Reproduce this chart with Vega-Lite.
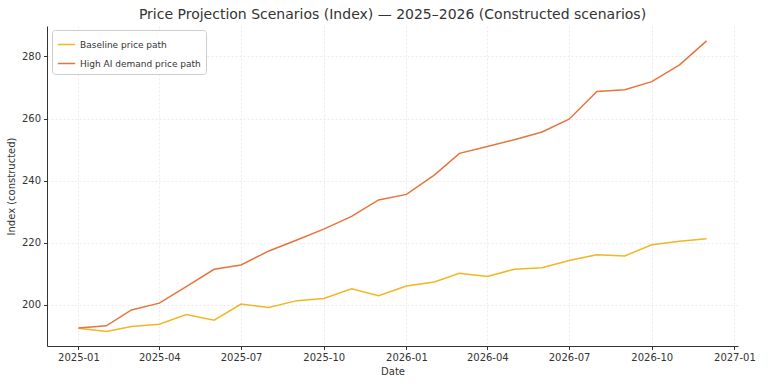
{
  "$schema": "https://vega.github.io/schema/vega-lite/v6.json",
  "autosize": "none",
  "width": 691,
  "height": 320,
  "padding": {"left": 47, "top": 26, "right": 30, "bottom": 38},
  "background": "white",
  "title": {"text": "Price Projection Scenarios (Index) — 2025–2026 (Constructed scenarios)", "fontSize": 14, "fontWeight": "normal", "color": "#333333", "font": "DejaVu Sans", "offset": 4, "anchor": "middle"},
  "config": {
    "view": {"stroke": null},
    "font": "DejaVu Sans",
    "axis": {"labelFont": "DejaVu Sans", "titleFont": "DejaVu Sans", "labelFontSize": 10, "titleFontSize": 10, "titleFontWeight": "normal", "labelColor": "#333333", "titleColor": "#333333", "domainColor": "#333333", "tickColor": "#333333", "tickSize": 3.5, "gridColor": "#e3e3e3", "gridDash": [2, 2], "gridWidth": 0.7}
  },
  "data": {"values": [
    {"date": "2025-01-01", "scenario": "Baseline price path", "value": 192.5},
    {"date": "2025-02-01", "scenario": "Baseline price path", "value": 191.5},
    {"date": "2025-03-01", "scenario": "Baseline price path", "value": 193.1},
    {"date": "2025-04-01", "scenario": "Baseline price path", "value": 193.8},
    {"date": "2025-05-01", "scenario": "Baseline price path", "value": 196.9},
    {"date": "2025-06-01", "scenario": "Baseline price path", "value": 195.1},
    {"date": "2025-07-01", "scenario": "Baseline price path", "value": 200.3},
    {"date": "2025-08-01", "scenario": "Baseline price path", "value": 199.2},
    {"date": "2025-09-01", "scenario": "Baseline price path", "value": 201.4},
    {"date": "2025-10-01", "scenario": "Baseline price path", "value": 202.1},
    {"date": "2025-11-01", "scenario": "Baseline price path", "value": 205.2},
    {"date": "2025-12-01", "scenario": "Baseline price path", "value": 203.0},
    {"date": "2026-01-01", "scenario": "Baseline price path", "value": 206.1},
    {"date": "2026-02-01", "scenario": "Baseline price path", "value": 207.4},
    {"date": "2026-03-01", "scenario": "Baseline price path", "value": 210.2},
    {"date": "2026-04-01", "scenario": "Baseline price path", "value": 209.2},
    {"date": "2026-05-01", "scenario": "Baseline price path", "value": 211.5},
    {"date": "2026-06-01", "scenario": "Baseline price path", "value": 212.0},
    {"date": "2026-07-01", "scenario": "Baseline price path", "value": 214.3},
    {"date": "2026-08-01", "scenario": "Baseline price path", "value": 216.2},
    {"date": "2026-09-01", "scenario": "Baseline price path", "value": 215.8},
    {"date": "2026-10-01", "scenario": "Baseline price path", "value": 219.4},
    {"date": "2026-11-01", "scenario": "Baseline price path", "value": 220.5},
    {"date": "2026-12-01", "scenario": "Baseline price path", "value": 221.3},
    {"date": "2025-01-01", "scenario": "High AI demand price path", "value": 192.6},
    {"date": "2025-02-01", "scenario": "High AI demand price path", "value": 193.3},
    {"date": "2025-03-01", "scenario": "High AI demand price path", "value": 198.4},
    {"date": "2025-04-01", "scenario": "High AI demand price path", "value": 200.6},
    {"date": "2025-05-01", "scenario": "High AI demand price path", "value": 205.9},
    {"date": "2025-06-01", "scenario": "High AI demand price path", "value": 211.5},
    {"date": "2025-07-01", "scenario": "High AI demand price path", "value": 212.9},
    {"date": "2025-08-01", "scenario": "High AI demand price path", "value": 217.4},
    {"date": "2025-09-01", "scenario": "High AI demand price path", "value": 220.9},
    {"date": "2025-10-01", "scenario": "High AI demand price path", "value": 224.4},
    {"date": "2025-11-01", "scenario": "High AI demand price path", "value": 228.5},
    {"date": "2025-12-01", "scenario": "High AI demand price path", "value": 233.8},
    {"date": "2026-01-01", "scenario": "High AI demand price path", "value": 235.6},
    {"date": "2026-02-01", "scenario": "High AI demand price path", "value": 241.8},
    {"date": "2026-03-01", "scenario": "High AI demand price path", "value": 248.8},
    {"date": "2026-04-01", "scenario": "High AI demand price path", "value": 251.0},
    {"date": "2026-05-01", "scenario": "High AI demand price path", "value": 253.2},
    {"date": "2026-06-01", "scenario": "High AI demand price path", "value": 255.7},
    {"date": "2026-07-01", "scenario": "High AI demand price path", "value": 259.8},
    {"date": "2026-08-01", "scenario": "High AI demand price path", "value": 268.7},
    {"date": "2026-09-01", "scenario": "High AI demand price path", "value": 269.3},
    {"date": "2026-10-01", "scenario": "High AI demand price path", "value": 271.9},
    {"date": "2026-11-01", "scenario": "High AI demand price path", "value": 277.3},
    {"date": "2026-12-01", "scenario": "High AI demand price path", "value": 285.0}
  ]},
  "mark": {"type": "line", "strokeWidth": 1.5, "clip": false},
  "encoding": {
    "x": {
      "field": "date", "type": "temporal", "title": "Date",
      "scale": {"type": "utc", "domain": [{"year": 2024, "month": 11, "date": 27, "utc": true}, {"year": 2027, "month": 1, "date": 5, "utc": true}], "nice": false},
      "axis": {
        "values": [
          {"year": 2025, "month": 1, "date": 1, "utc": true},
          {"year": 2025, "month": 4, "date": 1, "utc": true},
          {"year": 2025, "month": 7, "date": 1, "utc": true},
          {"year": 2025, "month": 10, "date": 1, "utc": true},
          {"year": 2026, "month": 1, "date": 1, "utc": true},
          {"year": 2026, "month": 4, "date": 1, "utc": true},
          {"year": 2026, "month": 7, "date": 1, "utc": true},
          {"year": 2026, "month": 10, "date": 1, "utc": true},
          {"year": 2027, "month": 1, "date": 1, "utc": true}
        ],
        "labelExpr": "utcFormat(datum.value, '%Y-%m')", "labelPadding": 3, "titlePadding": 4, "labelFlush": false, "labelOverlap": false
      }
    },
    "y": {
      "field": "value", "type": "quantitative", "title": "Index (constructed)",
      "scale": {"domain": [186.8, 289.8], "nice": false, "zero": false},
      "axis": {"values": [200, 220, 240, 260, 280], "labelPadding": 3, "titlePadding": 5}
    },
    "color": {
      "field": "scenario", "type": "nominal",
      "scale": {"domain": ["Baseline price path", "High AI demand price path"], "range": ["#F2B624", "#E8743B"]},
      "legend": {"title": null, "orient": "none", "legendX": 5, "legendY": 4, "fillColor": "white", "strokeColor": "#cccccc", "cornerRadius": 3, "padding": 5, "labelFontSize": 9, "labelColor": "#333333", "symbolType": "stroke", "symbolSize": 300, "symbolStrokeWidth": 1.5, "rowPadding": 4}
    }
  }
}
